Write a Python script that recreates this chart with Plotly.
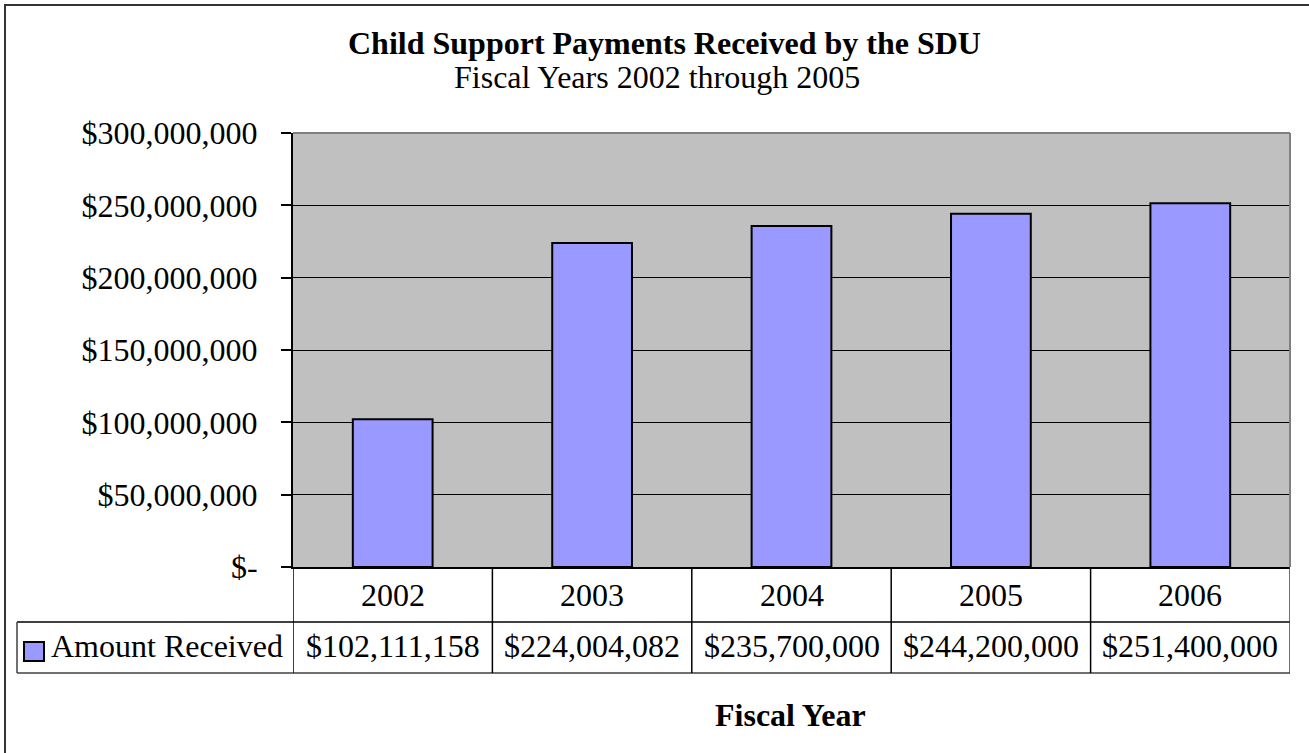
import plotly.graph_objects as go

years = ["2002", "2003", "2004", "2005", "2006"]
amounts = [102111158, 224004082, 235700000, 244200000, 251400000]
amount_labels = ["$102,111,158", "$224,004,082", "$235,700,000", "$244,200,000", "$251,400,000"]
y_tick_vals = [0, 50000000, 100000000, 150000000, 200000000, 250000000, 300000000]
y_tick_text = ["$-", "$50,000,000", "$100,000,000", "$150,000,000", "$200,000,000",
               "$250,000,000", "$300,000,000"]
series_name = "Amount Received"
title = "Child Support Payments Received by the SDU"
subtitle = "Fiscal Years 2002 through 2005"
x_title = "Fiscal Year"

W, H = 1309, 753
L, R, T, B = 293, 1290, 133, 567
FONT = "Liberation Serif, Times New Roman, serif"
FS = 32
BAR = "#9999FF"


def px(x):
    return (x - L) / (R - L)


def py(y):
    return (B - y) / (B - T)


fig = go.Figure()
fig.add_trace(go.Bar(x=years, y=amounts, width=0.4, name=series_name,
                     marker=dict(color=BAR, line=dict(color="black", width=2)),
                     showlegend=False))

shapes = []
annotations = []

# outer chart border
shapes.append(dict(type="rect", xref="paper", yref="paper", x0=px(5), x1=px(1320),
                   y0=py(765), y1=py(5), line=dict(color="#333333", width=2), layer="below"))
# plot area top/right border
shapes.append(dict(type="line", xref="paper", yref="paper", x0=0, x1=1, y0=1, y1=1,
                   line=dict(color="#808080", width=2)))
shapes.append(dict(type="line", xref="paper", yref="paper", x0=1, x1=1, y0=0, y1=1,
                   line=dict(color="#808080", width=2)))

# data table
row1 = py(622)
row2 = py(673)
shapes.append(dict(type="line", xref="paper", yref="paper", x0=px(17), x1=1, y0=row1, y1=row1,
                   line=dict(color="black", width=1.5)))
shapes.append(dict(type="line", xref="paper", yref="paper", x0=px(17), x1=1, y0=row2, y1=row2,
                   line=dict(color="#404040", width=1.5)))
shapes.append(dict(type="line", xref="paper", yref="paper", x0=px(17), x1=px(17), y0=row2, y1=row1,
                   line=dict(color="#404040", width=1.5)))
for i in range(len(years) + 1):
    xv = i - 0.5
    shapes.append(dict(type="line", xref="x", yref="paper", x0=xv, x1=xv, y0=row2, y1=0,
                       line=dict(color="black" if i < len(years) else "#404040", width=1.5)))

for i, (yr, lab) in enumerate(zip(years, amount_labels)):
    annotations.append(dict(x=i, y=py(595), xref="x", yref="paper", text=yr,
                            showarrow=False, xanchor="center", yanchor="middle",
                            font=dict(family=FONT, size=FS, color="black")))
    annotations.append(dict(x=i, y=py(646), xref="x", yref="paper", text=lab,
                            showarrow=False, xanchor="center", yanchor="middle",
                            font=dict(family=FONT, size=FS, color="black")))

# legend key
shapes.append(dict(type="rect", xref="paper", yref="paper", x0=px(24), x1=px(44),
                   y0=py(661), y1=py(642), fillcolor=BAR, line=dict(color="black", width=2)))
annotations.append(dict(x=px(49), y=py(646), xref="paper", yref="paper", text=series_name,
                        showarrow=False, xanchor="left", yanchor="middle",
                        font=dict(family=FONT, size=FS, color="black")))

# titles
annotations.append(dict(x=px(664), y=py(43), xref="paper", yref="paper", text="<b>" + title + "</b>",
                        showarrow=False, xanchor="center", yanchor="middle",
                        font=dict(family=FONT, size=FS, color="black")))
annotations.append(dict(x=px(657), y=py(77), xref="paper", yref="paper", text=subtitle,
                        showarrow=False, xanchor="center", yanchor="middle",
                        font=dict(family=FONT, size=FS, color="black")))
annotations.append(dict(x=px(790), y=py(715), xref="paper", yref="paper", text="<b>" + x_title + "</b>",
                        showarrow=False, xanchor="center", yanchor="middle",
                        font=dict(family=FONT, size=FS, color="black")))

fig.update_layout(
    width=W, height=H,
    margin=dict(l=L, r=W - R, t=T, b=H - B, pad=0),
    paper_bgcolor="white",
    plot_bgcolor="#C0C0C0",
    bargap=0.6,
    shapes=shapes,
    annotations=annotations,
    font=dict(family=FONT, size=FS, color="black"),
    xaxis=dict(type="category", range=[-0.5, len(years) - 0.5], showticklabels=False,
               showgrid=False, zeroline=False, showline=True, linecolor="black", linewidth=2,
               ticks=""),
    yaxis=dict(range=[0, 300000000], tickvals=y_tick_vals, ticktext=y_tick_text,
               showgrid=True, gridcolor="black", gridwidth=1, zeroline=False,
               showline=True, linecolor="black", linewidth=2,
               ticks="outside", ticklen=10, tickcolor="black", tickwidth=1.5,
               ticklabelstandoff=17,
               tickfont=dict(family=FONT, size=FS, color="black")),
)

fig.write_html("out.html")
